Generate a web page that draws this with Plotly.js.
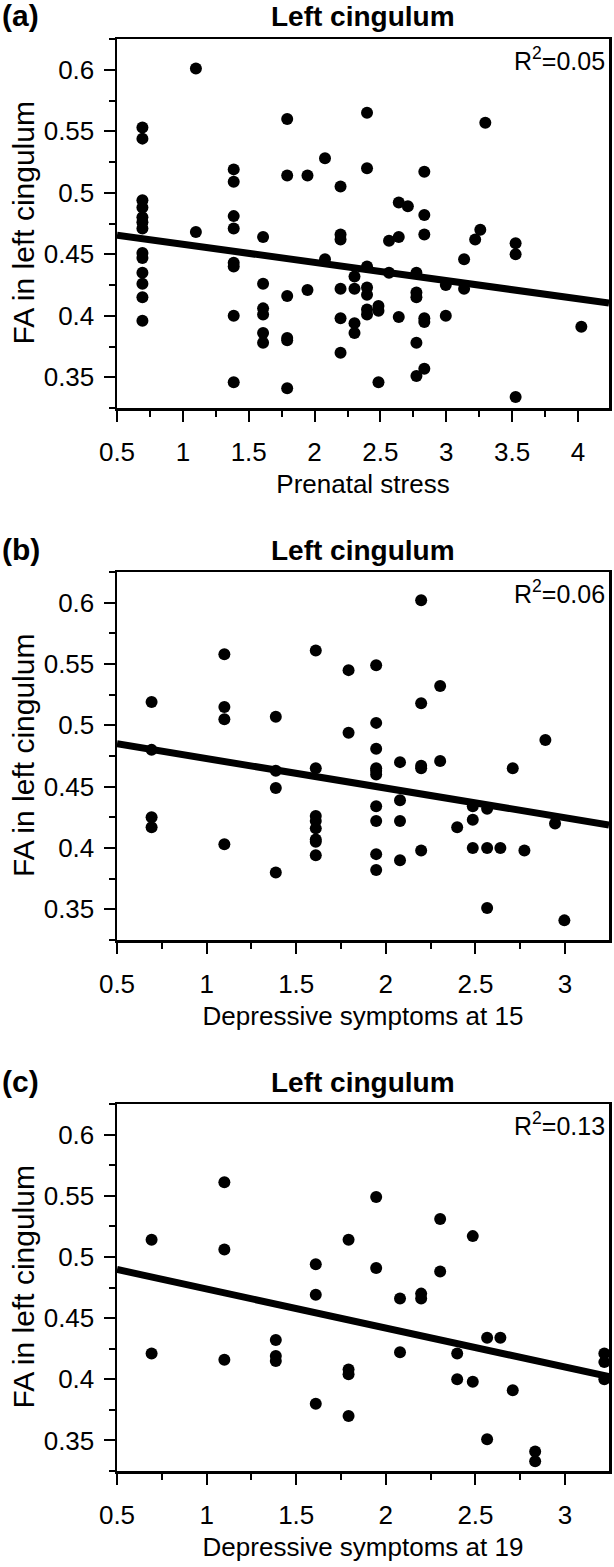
<!DOCTYPE html>
<html>
<head>
<meta charset="utf-8">
<script src="https://cdn.plot.ly/plotly-3.0.1.min.js"></script>
<style>
  html, body { margin: 0; padding: 0; background: #fff; }
  #chart { width: 614px; height: 1567px; }
</style>
</head>
<body>
<div id="chart"></div>
<script>
// ---------- data (x = log-transformed scores, y = FA in left cingulum) ----------
const panelLabels = ["(a)", "(b)", "(c)"];
const panelTitles = ["Left cingulum", "Left cingulum", "Left cingulum"];
const xTitles = ["Prenatal stress", "Depressive symptoms at 15", "Depressive symptoms at 19"];
const yTitle = "FA in left cingulum";
const r2Labels = ["R<sup>2</sup>=0.05", "R<sup>2</sup>=0.06", "R<sup>2</sup>=0.13"];

const xA = [
  0.693,0.693,0.693,0.693,0.693,0.693,0.693,0.693,0.693,0.693,0.693,0.693,0.693,
  1.099,1.099,
  1.386,1.386,1.386,1.386,1.386,1.386,1.386,1.386,
  1.609,1.609,1.609,1.609,1.609,1.609,
  1.792,1.792,1.792,1.792,1.792,1.792,
  1.946,1.946,
  2.079,2.079,
  2.197,2.197,2.197,2.197,2.197,2.197,
  2.303,2.303,2.303,2.303,
  2.398,2.398,2.398,2.398,2.398,2.398,2.398,
  2.485,2.485,2.485,
  2.565,2.565,
  2.639,2.639,2.639,
  2.708,
  2.773,2.773,2.773,2.773,2.773,
  2.833,2.833,2.833,2.833,2.833,2.833,
  2.996,2.996,
  3.135,3.135,
  3.219,
  3.258,
  3.296,
  3.526,3.526,3.526,
  4.025
];
const yA = [
  0.553,0.544,0.494,0.488,0.480,0.476,0.471,0.451,0.447,0.435,0.426,0.415,0.396,
  0.601,0.468,
  0.519,0.509,0.481,0.471,0.443,0.440,0.400,0.346,
  0.464,0.426,0.406,0.401,0.386,0.378,
  0.560,0.514,0.416,0.382,0.380,0.341,
  0.514,0.421,
  0.528,0.446,
  0.505,0.466,0.462,0.422,0.398,0.370,
  0.432,0.422,0.394,0.386,
  0.565,0.520,0.440,0.423,0.417,0.405,0.401,
  0.408,0.404,0.346,
  0.461,0.435,
  0.492,0.464,0.399,
  0.489,
  0.435,0.419,0.415,0.378,0.351,
  0.517,0.482,0.466,0.398,0.395,0.357,
  0.425,0.400,
  0.446,0.422,
  0.462,
  0.470,
  0.557,
  0.459,0.450,0.334,
  0.391
];

const xB = [
  0.693,0.693,0.693,0.693,
  1.099,1.099,1.099,1.099,
  1.386,1.386,1.386,1.386,
  1.609,1.609,1.609,1.609,1.609,1.609,1.609,1.609,
  1.792,1.792,
  1.946,1.946,1.946,1.946,1.946,1.946,1.946,1.946,1.946,1.946,
  2.079,2.079,2.079,2.079,
  2.197,2.197,2.197,2.197,2.197,
  2.303,2.303,
  2.398,
  2.485,2.485,2.485,
  2.565,2.565,2.565,
  2.639,
  2.708,
  2.773,
  2.890,
  2.944,
  2.996
];
const yB = [
  0.519,0.480,0.425,0.417,
  0.558,0.515,0.505,0.403,
  0.507,0.463,0.449,0.380,
  0.561,0.465,0.426,0.422,0.416,0.407,0.405,0.394,
  0.545,0.494,
  0.549,0.502,0.481,0.465,0.463,0.460,0.434,0.422,0.395,0.382,
  0.470,0.439,0.422,0.390,
  0.602,0.518,0.467,0.465,0.398,
  0.532,0.471,
  0.417,
  0.434,0.423,0.400,
  0.432,0.400,0.351,
  0.400,
  0.465,
  0.398,
  0.488,
  0.420,
  0.341
];

const xC = [
  0.693,0.693,
  1.099,1.099,1.099,
  1.386,1.386,1.386,
  1.609,1.609,1.609,
  1.792,1.792,1.792,1.792,
  1.946,1.946,
  2.079,2.079,
  2.197,2.197,
  2.303,2.303,
  2.398,2.398,
  2.485,2.485,
  2.565,2.565,
  2.639,
  2.708,
  2.833,2.833,
  3.219,3.219,3.219
];
const yC = [
  0.514,0.421,
  0.561,0.506,0.416,
  0.432,0.419,0.415,
  0.494,0.469,0.380,
  0.514,0.408,0.404,0.370,
  0.549,0.491,
  0.466,0.422,
  0.470,0.466,
  0.531,0.488,
  0.421,0.400,
  0.517,0.398,
  0.434,0.351,
  0.434,
  0.391,
  0.341,0.333,
  0.421,0.414,0.400
];

const xRanges = [[0.5, 4.235], [0.5, 3.245], [0.5, 3.245]];
const yRange = [0.325, 0.625];

// ---------- helpers ----------
function fit(xs, ys) {
  const n = xs.length;
  let sx = 0, sy = 0, sxx = 0, sxy = 0;
  for (let i = 0; i < n; i++) { sx += xs[i]; sy += ys[i]; sxx += xs[i]*xs[i]; sxy += xs[i]*ys[i]; }
  const b = (n*sxy - sx*sy) / (n*sxx - sx*sx);
  const a = (sy - b*sx) / n;
  return {a, b};
}

const FONT = "Liberation Sans, Arial, Helvetica, sans-serif";
const W = 614, H = 1567, ML = 117, MR = 5;
const PW = W - ML - MR;
// plot-area pixel bounds (top, bottom) for each panel
const bands = [[39, 408], [572, 940], [1104, 1471]];
const series = [[xA, yA], [xB, yB], [xC, yC]];

const traces = [];
const layout = {
  width: W, height: H,
  margin: {l: ML, r: MR, t: 0, b: 0},
  paper_bgcolor: "#fff", plot_bgcolor: "#fff",
  showlegend: false,
  font: {family: FONT, color: "#000", size: 26},
  annotations: []
};

series.forEach((s, i) => {
  const n = i === 0 ? "" : String(i + 1);
  const xa = "x" + n, ya = "y" + n;
  traces.push({
    type: "scatter", mode: "markers", x: s[0], y: s[1],
    xaxis: xa, yaxis: ya,
    marker: {color: "#000", size: 12, line: {width: 0}},
    cliponaxis: false, hoverinfo: "skip"
  });
  const f = fit(s[0], s[1]);
  const xr = xRanges[i];
  traces.push({
    type: "scatter", mode: "lines",
    x: [xr[0], xr[1]], y: [f.a + f.b*xr[0], f.a + f.b*xr[1]],
    xaxis: xa, yaxis: ya,
    line: {color: "#000", width: 7}, hoverinfo: "skip"
  });
  const top = bands[i][0], bot = bands[i][1];
  const dom = [1 - bot/H, 1 - top/H];
  const common = {
    showline: true, linecolor: "#000", linewidth: 2.5, mirror: true,
    ticks: "outside", ticklen: 11, tickwidth: 2, tickcolor: "#000",
    showgrid: false, zeroline: false, automargin: false,
    tickfont: {family: FONT, size: 26, color: "#000"}
  };
  layout["xaxis" + n] = Object.assign({}, common, {
    domain: [0, 1], range: xr, anchor: ya,
    tick0: 0.5, dtick: 0.5,
    minor: {ticks: "outside", ticklen: 6, tickwidth: 2, tickcolor: "#000", dtick: 0.25, tick0: 0.25},
    ticklabelstandoff: 8,
    title: {text: xTitles[i], font: {family: FONT, size: 26, color: "#000"}, standoff: 9}
  });
  layout["yaxis" + n] = Object.assign({}, common, {
    domain: dom, range: yRange, anchor: xa,
    tick0: 0, dtick: 0.05,
    minor: {ticks: "outside", ticklen: 6, tickwidth: 2, tickcolor: "#000", dtick: 0.025, tick0: 0},
    ticklabelstandoff: 4
  });
  // y-axis title
  layout.annotations.push({
    xref: "paper", yref: "paper", x: (23 - ML)/PW, y: 1 - ((top + bot)/2)/H,
    text: yTitle, textangle: -90, showarrow: false,
    xanchor: "center", yanchor: "middle",
    font: {family: FONT, size: 30, color: "#000"}
  });
  const titleY = top - 22;
  layout.annotations.push({
    xref: "paper", yref: "paper", x: 0.5, y: 1 - titleY/H,
    text: "<b>" + panelTitles[i] + "</b>", showarrow: false,
    xanchor: "center", yanchor: "middle",
    font: {family: FONT, size: 28, color: "#000"}
  });
  layout.annotations.push({
    xref: "paper", yref: "paper", x: -ML/PW, y: 1 - (titleY - 1)/H,
    text: "<b>" + panelLabels[i] + "</b>", showarrow: false,
    xanchor: "left", yanchor: "middle",
    font: {family: FONT, size: 30, color: "#000"}
  });
  layout.annotations.push({
    xref: xa + " domain", yref: ya + " domain", x: 0.995, y: 0.995,
    text: r2Labels[i], showarrow: false,
    xanchor: "right", yanchor: "top",
    font: {family: FONT, size: 25, color: "#000"}
  });
});

Plotly.newPlot("chart", traces, layout, {displayModeBar: false, staticPlot: true});
</script>
</body>
</html>
